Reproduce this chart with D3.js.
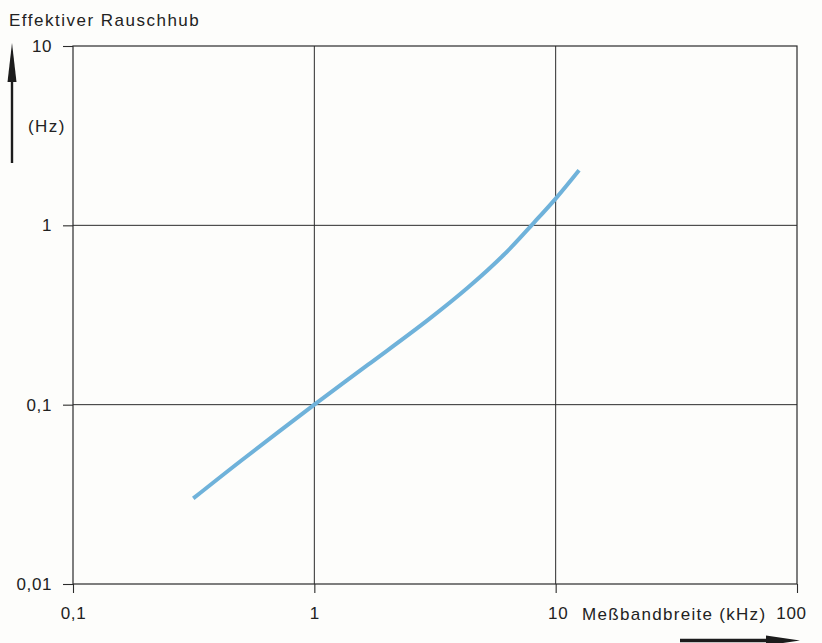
<!DOCTYPE html>
<html>
<head>
<meta charset="utf-8">
<script src="https://cdn.jsdelivr.net/npm/d3@7"></script>
<style>
  html, body { margin: 0; padding: 0; background: #fdfdfb; }
  svg { display: block; font-family: "Liberation Sans", Arial, sans-serif; }
</style>
</head>
<body>
<svg id="chart" width="822" height="643"></svg>
<script>
// Measuring bandwidth (kHz) vs. effective noise deviation (Hz)
const bandwidthKHz = [0.315, 0.5, 1, 1.67, 2.95, 4.33, 6.13, 8.1, 10, 12.5];
const noiseDevHz   = [0.030, 0.049, 0.1, 0.167, 0.296, 0.45, 0.69, 1.03, 1.41, 2.03];

const xTicks = [0.1, 1, 10, 100];
const yTicks = [0.01, 0.1, 1, 10];
const xGrid = [1, 10];
const yGrid = [0.1, 1];

const yTitle = "Effektiver Rauschhub";
const yUnit = "(Hz)";
const xTitle = "Meßbandbreite (kHz)";

const fmt = d => String(d).replace(".", ",");

const svg = d3.select("#chart");
const ink = "#2b2b2b";
const textInk = "#222";

const x = d3.scaleLog().domain([0.1, 100]).range([73, 797]);
const y = d3.scaleLog().domain([0.01, 10]).range([584, 46]);

// grid
svg.append("g").selectAll("line").data(xGrid).join("line")
  .attr("x1", d => x(d)).attr("x2", d => x(d))
  .attr("y1", y.range()[1]).attr("y2", y.range()[0])
  .attr("stroke", ink).attr("stroke-width", 1);
svg.append("g").selectAll("line").data(yGrid).join("line")
  .attr("y1", d => y(d)).attr("y2", d => y(d))
  .attr("x1", x.range()[0]).attr("x2", x.range()[1])
  .attr("stroke", ink).attr("stroke-width", 1);

// frame
svg.append("rect")
  .attr("x", x.range()[0]).attr("y", y.range()[1])
  .attr("width", x.range()[1] - x.range()[0])
  .attr("height", y.range()[0] - y.range()[1])
  .attr("fill", "none").attr("stroke", ink).attr("stroke-width", 1.2);

// axes
const xAxis = svg.append("g")
  .attr("transform", `translate(0,${y.range()[0]})`)
  .call(d3.axisBottom(x).tickValues(xTicks).tickFormat(fmt).tickSize(9).tickPadding(14));
const yAxis = svg.append("g")
  .attr("transform", `translate(${x.range()[0]},0)`)
  .call(d3.axisLeft(y).tickValues(yTicks).tickFormat(fmt).tickSize(10).tickPadding(9));

[xAxis, yAxis].forEach(g => {
  g.select(".domain").remove();
  g.selectAll(".tick line").attr("stroke", ink).attr("stroke-width", 1.1);
  g.selectAll(".tick text").attr("fill", textInk)
    .style("font-size", "17px").style("letter-spacing", "0.6px").attr("font-family", null);
});
xAxis.selectAll(".tick text").filter(d => d === 100).attr("text-anchor", "end").attr("dx", "9px");
xAxis.selectAll(".tick text").filter(d => d === 10).attr("dx", "2px");
yAxis.selectAll(".tick text").attr("dx", "-2px");

// curve
const pts = bandwidthKHz.map((b, i) => [x(b), y(noiseDevHz[i])]);
svg.append("path")
  .attr("d", d3.line().curve(d3.curveCatmullRom.alpha(0.5))(pts))
  .attr("fill", "none")
  .attr("stroke", "#6fb2da")
  .attr("stroke-width", 4)
  .attr("stroke-linecap", "butt");

// titles
svg.append("text").attr("x", 9).attr("y", 26)
  .attr("fill", textInk).style("font-size", "17px").style("letter-spacing", "1.5px")
  .text(yTitle);
svg.append("text").attr("x", 66).attr("y", 132).attr("text-anchor", "end")
  .attr("fill", textInk).style("font-size", "17px").style("letter-spacing", "1.5px")
  .text(yUnit);
svg.append("text").attr("x", 582).attr("y", 620)
  .attr("fill", textInk).style("font-size", "17px").style("letter-spacing", "1.3px")
  .text(xTitle);

// direction arrows
const arrows = svg.append("g").attr("fill", "#1c1c1c").attr("stroke", "#1c1c1c");
arrows.append("line").attr("x1", 12).attr("x2", 12).attr("y1", 70).attr("y2", 163).attr("stroke-width", 2.4);
arrows.append("path").attr("d", "M12,43 L16.5,82 L7.5,82 Z").attr("stroke", "none");
arrows.append("line").attr("x1", 680).attr("x2", 775).attr("y1", 640.5).attr("y2", 640.5).attr("stroke-width", 3.5);
arrows.append("path").attr("d", "M800,640.5 L766,635.5 L766,645.5 Z").attr("stroke", "none");
</script>
</body>
</html>
